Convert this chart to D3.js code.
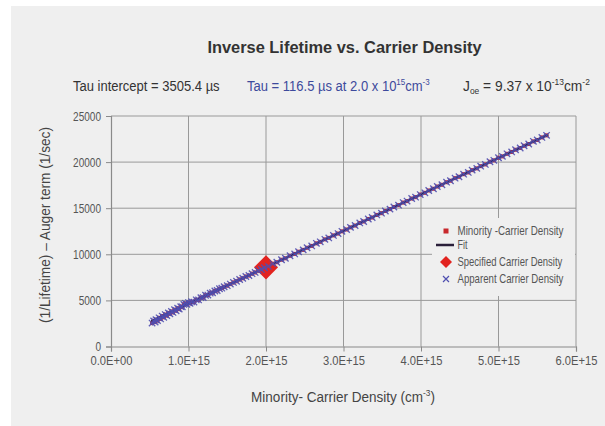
<!DOCTYPE html>
<html>
<head>
<meta charset="utf-8">
<script src="https://cdn.jsdelivr.net/npm/d3@7"></script>
<style>
  html, body { margin: 0; padding: 0; background: #ffffff; }
  svg { display: block; }
  text { font-family: "Liberation Sans", Arial, sans-serif; }
</style>
</head>
<body>
<svg id="chart" width="605" height="426"></svg>
<script>
// Apparent carrier density (units of 1e15 cm^-3) and inverse lifetime minus Auger term (1/s)
const apparentDensity = [
  0.53,0.55,0.57,0.58,0.60,0.62,0.64,0.66,0.68,0.70,0.72,0.74,0.76,0.78,0.80,0.82,0.84,0.86,0.88,0.90,
  0.92,0.94,0.96,0.98,1.00,1.02,1.04,1.07,1.10,1.13,1.16,1.19,1.22,1.25,1.28,1.31,1.34,1.37,1.40,1.43,
  1.46,1.50,1.54,1.58,1.62,1.66,1.70,1.74,1.78,1.82,1.86,1.90,1.94,1.98,
  2.03,2.09,2.14,2.20,2.25,2.31,2.37,2.42,2.48,2.53,2.59,2.65,2.70,2.76,2.81,2.87,2.93,2.98,
  3.04,3.09,3.15,3.21,3.26,3.32,3.37,3.43,3.49,3.54,3.60,3.65,3.71,3.77,3.82,3.88,3.93,3.99,
  4.05,4.10,4.16,4.21,4.27,4.33,4.38,4.44,4.49,4.55,4.61,4.66,4.72,4.77,4.83,4.89,4.94,
  5.00,5.05,5.11,5.17,5.22,5.28,5.33,5.39,5.45,5.50,5.56,5.62
];
const inverseLifetime = [
  2540,2780,2650,2900,2820,3110,2990,3300,3170,3460,3350,3640,3540,3800,3700,3990,3880,4150,4060,4320,
  4300,4560,4680,4580,4760,4680,4850,4820,5060,5050,5300,5310,5560,5580,5790,5830,6020,6070,6260,6330,
  6480,6600,6770,6950,7080,7270,7400,7590,7700,7900,8030,8220,8350,8540,
  8700,8980,9140,9410,9570,9840,10040,10280,10480,10710,10910,11190,11350,11620,11780,12050,12250,12490,
  12690,12920,13120,13400,13560,13830,13990,14270,14460,14700,14900,15130,15330,15610,15770,16050,16200,16480,
  16670,16920,17110,17350,17540,17820,17980,18260,18410,18690,18880,19130,19320,19560,19750,20040,20190,
  20470,20620,20900,21100,21340,21530,21770,21960,22250,22400,22680,22900
];
// Linear fit end points
const fitDensity = [0.52, 5.64];
const fitRate = [2750, 22980];
// Specified carrier density point: 2.0e15 cm^-3, tau = 116.5 us
const specifiedDensity = [2.0];
const specifiedTauMicro = [116.5];

const xTicks = [0, 1, 2, 3, 4, 5, 6];
const xTickLabels = ["0.0E+00", "1.0E+15", "2.0E+15", "3.0E+15", "4.0E+15", "5.0E+15", "6.0E+15"];
const yTicks = [0, 5000, 10000, 15000, 20000, 25000];
const legendLabels = ["Minority -Carrier Density", "Fit", "Specified Carrier Density", "Apparent Carrier Density"];

const svg = d3.select("#chart");
const W = 605, H = 426;
const plot = { left: 111, right: 576, top: 116, bottom: 346.5 };

// squeeze a text horizontally about its anchor point so it spans the given width
function fitWidth(sel, width, ax, ay) {
  const k = width / sel.node().getBBox().width;
  sel.attr("transform", `translate(${ax},${ay}) scale(${k},1) translate(${-ax},${-ay})`);
  return k;
}

// panel background
svg.append("rect").attr("x", 11).attr("y", 6).attr("width", W - 11).attr("height", H - 6)
  .attr("fill", "#efefef");

const x = d3.scaleLinear().domain([0, 6]).range([plot.left, plot.right]);
const y = d3.scaleLinear().domain([0, 25000]).range([plot.bottom, plot.top]);

const gridColor = "#999999";

// grid
const grid = svg.append("g");
grid.selectAll("line.v").data(xTicks.slice(1)).join("line").attr("class", "v")
  .attr("x1", d => x(d)).attr("x2", d => x(d)).attr("y1", plot.top).attr("y2", plot.bottom)
  .attr("stroke", gridColor).attr("stroke-width", 1);
grid.selectAll("line.h").data(yTicks.slice(1)).join("line").attr("class", "h")
  .attr("x1", plot.left).attr("x2", plot.right).attr("y1", d => y(d)).attr("y2", d => y(d))
  .attr("stroke", gridColor).attr("stroke-width", 1);

// axes
const xAxis = d3.axisBottom(x).tickValues(xTicks).tickSize(5).tickPadding(5)
  .tickFormat((d, i) => xTickLabels[i]);
const gx = svg.append("g").attr("transform", `translate(0,${plot.bottom})`).call(xAxis);
const yAxis = d3.axisLeft(y).tickValues(yTicks).tickSize(5).tickPadding(5)
  .tickFormat(d3.format("d"));
const gy = svg.append("g").attr("transform", `translate(${plot.left},0)`).call(yAxis);
[gx, gy].forEach(g => {
  g.select(".domain").attr("stroke", "#8a8a8a").attr("stroke-width", 1.2);
  g.selectAll(".tick line").attr("stroke", "#8a8a8a");
  g.selectAll(".tick text").attr("fill", "#555").attr("font-size", 12.5)
    .attr("font-family", '"Liberation Sans", Arial, sans-serif');
});
// condensed tick labels
const kx = 42 / gx.select(".tick text").node().getBBox().width;
gx.selectAll(".tick text").attr("transform", `scale(${kx},1)`);
const ky = 28 / gy.selectAll(".tick text").nodes()[5].getBBox().width;
gy.selectAll(".tick text").each(function () {
  const t = d3.select(this);
  const tx = +t.attr("x");
  t.attr("transform", `translate(${tx},0) scale(${ky},1) translate(${-tx},0)`);
});

const pts = apparentDensity.map((d, i) => [d, inverseLifetime[i]]);

// minority-carrier density squares
svg.append("g").selectAll("rect").data(pts).join("rect")
  .attr("x", d => x(d[0]) - 2).attr("y", d => y(d[1]) - 2)
  .attr("width", 4).attr("height", 4).attr("fill", "#c8282c");

// fit line
svg.append("line")
  .attr("x1", x(fitDensity[0])).attr("y1", y(fitRate[0]))
  .attr("x2", x(fitDensity[1])).attr("y2", y(fitRate[1]))
  .attr("stroke", "#2a1f3a").attr("stroke-width", 1.8);

// specified carrier density diamond
const diamond = d3.symbol().type(d3.symbolSquare).size(290);
svg.append("g").selectAll("path").data(specifiedDensity).join("path")
  .attr("d", diamond)
  .attr("transform", (d, i) => `translate(${x(d)},${y(1e6 / specifiedTauMicro[i])}) rotate(45)`)
  .attr("fill", "#e2231f");

// apparent carrier density crosses
const cross = (cx, cy, s) => `M${cx - s},${cy - s}L${cx + s},${cy + s}M${cx - s},${cy + s}L${cx + s},${cy - s}`;
svg.append("g").selectAll("path").data(pts).join("path")
  .attr("d", d => cross(x(d[0]), y(d[1]), 3.2))
  .attr("stroke", "#4f4fb0").attr("stroke-width", 1.3).attr("fill", "none").attr("opacity", 0.9);

// legend
const lg = svg.append("g");
lg.append("rect").attr("x", 432).attr("y", 218).attr("width", 143).attr("height", 78).attr("fill", "#efefef");
const rowY = [231, 245, 262, 279];
const mx = 446;
lg.append("rect").attr("x", mx - 2.5).attr("y", rowY[0] - 2.5).attr("width", 5).attr("height", 5).attr("fill", "#c8282c");
lg.append("line").attr("x1", mx - 10).attr("x2", mx + 8).attr("y1", rowY[1]).attr("y2", rowY[1])
  .attr("stroke", "#2a1f3a").attr("stroke-width", 2.5);
lg.append("path").attr("d", d3.symbol().type(d3.symbolSquare).size(72))
  .attr("transform", `translate(${mx},${rowY[2]}) rotate(45)`).attr("fill", "#e2231f");
lg.append("path").attr("d", cross(mx, rowY[3], 3)).attr("stroke", "#4f4fb0").attr("stroke-width", 1.2).attr("fill", "none");
const legendWidths = [106, 10.5, 105, 106];
lg.selectAll("text").data(legendLabels).join("text")
  .attr("x", 457.5).attr("y", (d, i) => rowY[i] + 4)
  .attr("font-size", 12).attr("fill", "#555").text(d => d)
  .each(function (d, i) { fitWidth(d3.select(this), legendWidths[i], 457.5, 0); });

// title
const title = svg.append("text").attr("x", 344.5).attr("y", 53).attr("text-anchor", "middle")
  .attr("font-size", 17).attr("font-weight", "bold").attr("fill", "#333")
  .text("Inverse Lifetime vs. Carrier Density");
fitWidth(title, 275, 344.5, 0);

// header annotations
const hy = 91;
const t1 = svg.append("text").attr("x", 73).attr("y", hy).attr("font-size", 15.5).attr("fill", "#333")
  .text("Tau intercept = 3505.4 µs");
fitWidth(t1, 147, 73, 0);
const t2 = svg.append("text").attr("x", 247).attr("y", hy).attr("font-size", 15.5).attr("fill", "#3d4a9c");
t2.append("tspan").text("Tau = 116.5 µs at 2.0 x 10");
t2.append("tspan").attr("dy", -6).attr("font-size", 9.5).text("15");
t2.append("tspan").attr("dy", 6).text("cm");
t2.append("tspan").attr("dy", -6).attr("font-size", 9.5).text("-3");
fitWidth(t2, 183, 247, 0);
const t3 = svg.append("text").attr("x", 463).attr("y", hy).attr("font-size", 15.5).attr("fill", "#333");
t3.append("tspan").text("J");
t3.append("tspan").attr("dy", 3).attr("font-size", 9.5).text("oe");
t3.append("tspan").attr("dy", -3).text(" = 9.37 x 10");
t3.append("tspan").attr("dy", -6).attr("font-size", 9.5).text("-13");
t3.append("tspan").attr("dy", 6).text("cm");
t3.append("tspan").attr("dy", -6).attr("font-size", 9.5).text("-2");
fitWidth(t3, 127, 463, 0);

// axis titles
const xt = svg.append("text").attr("x", 343).attr("y", 402).attr("text-anchor", "middle")
  .attr("font-size", 15.5).attr("fill", "#444");
xt.append("tspan").text("Minority- Carrier Density (cm");
xt.append("tspan").attr("dy", -6).attr("font-size", 9.5).text("-3");
xt.append("tspan").attr("dy", 6).text(")");
fitWidth(xt, 184, 343, 0);

const yt = svg.append("text").attr("x", 0).attr("y", 0).attr("text-anchor", "middle")
  .attr("font-size", 15.5).attr("fill", "#444")
  .text("(1/Lifetime) \u2013 Auger term (1/sec)");
const kyt = 196 / yt.node().getBBox().width;
yt.attr("transform", `translate(50,225) rotate(-90) scale(${kyt},1)`);
</script>
</body>
</html>
